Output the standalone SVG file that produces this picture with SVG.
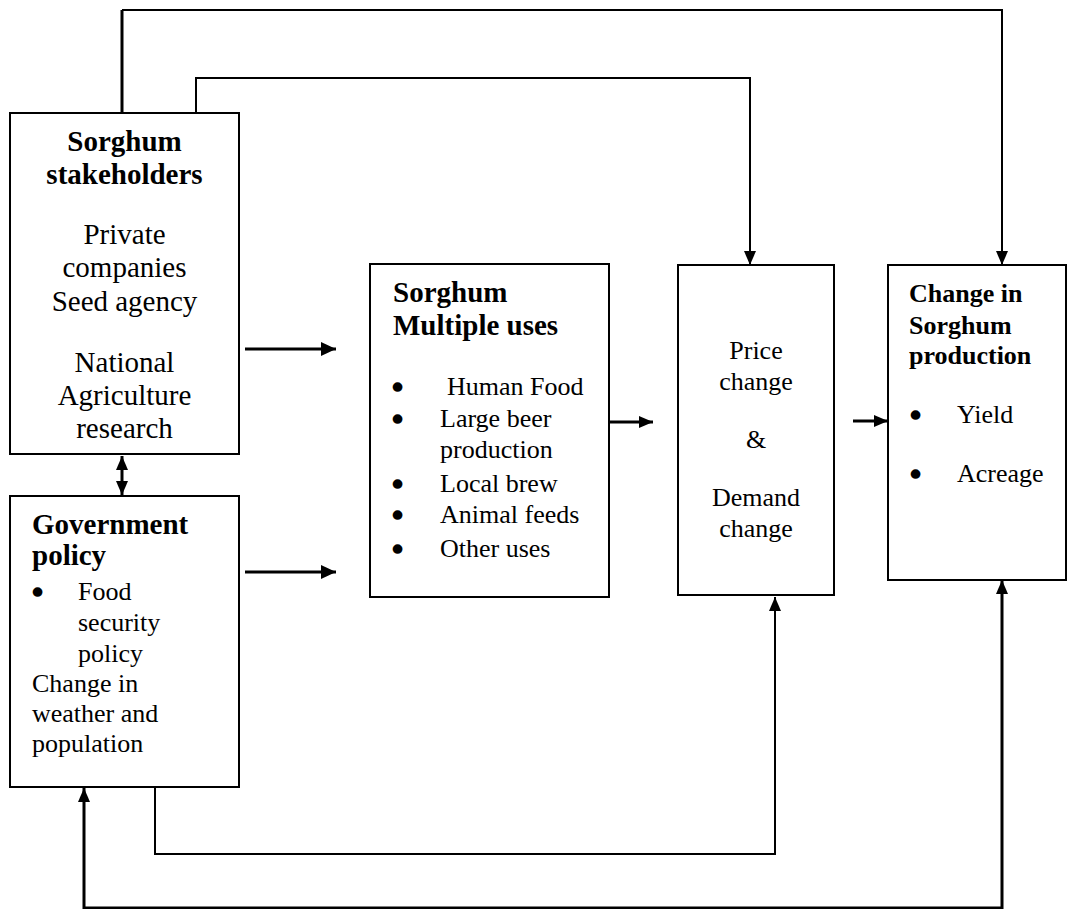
<svg xmlns="http://www.w3.org/2000/svg" width="1070" height="909" viewBox="0 0 1070 909">
<style>
.box{fill:#fff;stroke:#000;stroke-width:2}
.t{font-family:"Liberation Serif","Times New Roman",serif;fill:#000}
.b{font-weight:bold}
.s29{font-size:29px}
.s26{font-size:26px}
.bu{font-size:26px;stroke:#000;stroke-width:3.5;stroke-linejoin:round}
.c{text-anchor:middle}
.ln{fill:none;stroke:#000;stroke-width:2}
.lt{fill:none;stroke:#000;stroke-width:3}
</style>
<defs>
<marker id="ah" viewBox="0 0 15 14" refX="15" refY="7" markerWidth="15" markerHeight="14" orient="auto-start-reverse" markerUnits="userSpaceOnUse"><path d="M0,0 L15,7 L0,14 z" fill="#000"/></marker>
<marker id="ahs" viewBox="0 0 14 12" refX="14" refY="6" markerWidth="14" markerHeight="12" orient="auto-start-reverse" markerUnits="userSpaceOnUse"><path d="M0,0 L14,6 L0,12 z" fill="#000"/></marker>
</defs>
<rect width="1070" height="909" fill="#fff"/>
<g id="connectors">
<path class="lt" d="M122,113 V10"/>
<path class="ln" d="M122,10 H1002 V265" marker-end="url(#ahs)"/>
<path class="ln" d="M196,113 V78 H750 V265" marker-end="url(#ahs)"/>
<path class="lt" d="M245,349 H336" marker-end="url(#ah)"/>
<path class="lt" d="M245,572 H336" marker-end="url(#ah)"/>
<path class="lt" d="M122,456 V495" marker-start="url(#ahs)" marker-end="url(#ahs)"/>
<path class="lt" d="M609,422 H653" marker-end="url(#ahs)"/>
<path class="lt" d="M853,421 H888" marker-end="url(#ahs)"/>
<path class="ln" d="M155,787 V854 H775 V597" marker-end="url(#ahs)"/>
<path class="lt" d="M84,788 V908 H1002 V580" marker-start="url(#ahs)" marker-end="url(#ahs)"/>
</g>
<g id="stakeholders">
<rect class="box" x="10" y="113" width="229" height="341"/>
<text class="t b s29 c" x="124.5" y="151">Sorghum</text>
<text class="t b s29 c" x="124.5" y="184">stakeholders</text>
<text class="t s29 c" x="124.5" y="244">Private</text>
<text class="t s29 c" x="124.5" y="277">companies</text>
<text class="t s29 c" x="124.5" y="311">Seed agency</text>
<text class="t s29 c" x="124.5" y="372">National</text>
<text class="t s29 c" x="124.5" y="405">Agriculture</text>
<text class="t s29 c" x="124.5" y="438">research</text>
</g>
<g id="government">
<rect class="box" x="10" y="496" width="229" height="291"/>
<text class="t b s29" x="32" y="534">Government</text>
<text class="t b s29" x="32" y="565">policy</text>
<text class="t bu" x="33" y="601">•</text>
<text class="t s26" x="78" y="600">Food</text>
<text class="t s26" x="78" y="631">security</text>
<text class="t s26" x="78" y="662">policy</text>
<text class="t s26" x="32" y="692">Change in</text>
<text class="t s26" x="32" y="722">weather and</text>
<text class="t s26" x="32" y="752">population</text>
</g>
<g id="uses">
<rect class="box" x="370" y="264" width="239" height="333"/>
<text class="t b s29" x="393" y="302">Sorghum</text>
<text class="t b s29" x="393" y="335">Multiple uses</text>
<text class="t bu" x="393" y="396">•</text>
<text class="t s26" x="447" y="395">Human Food</text>
<text class="t bu" x="393" y="428">•</text>
<text class="t s26" x="440" y="427">Large beer</text>
<text class="t s26" x="440" y="458">production</text>
<text class="t bu" x="393" y="493">•</text>
<text class="t s26" x="440" y="492">Local brew</text>
<text class="t bu" x="393" y="524">•</text>
<text class="t s26" x="440" y="523">Animal feeds</text>
<text class="t bu" x="393" y="558">•</text>
<text class="t s26" x="440" y="557">Other uses</text>
</g>
<g id="price">
<rect class="box" x="678" y="265" width="156" height="330"/>
<text class="t s26 c" x="756" y="359">Price</text>
<text class="t s26 c" x="756" y="390">change</text>
<text class="t s26 c" x="756" y="448">&amp;</text>
<text class="t s26 c" x="756" y="506">Demand</text>
<text class="t s26 c" x="756" y="537">change</text>
</g>
<g id="production">
<rect class="box" x="888" y="265" width="178" height="315"/>
<text class="t b s26" x="909" y="302">Change in</text>
<text class="t b s26" x="909" y="334">Sorghum</text>
<text class="t b s26" x="909" y="364">production</text>
<text class="t bu" x="911" y="424">•</text>
<text class="t s26" x="957" y="423">Yield</text>
<text class="t bu" x="911" y="483">•</text>
<text class="t s26" x="957" y="482">Acreage</text>
</g>
</svg>
